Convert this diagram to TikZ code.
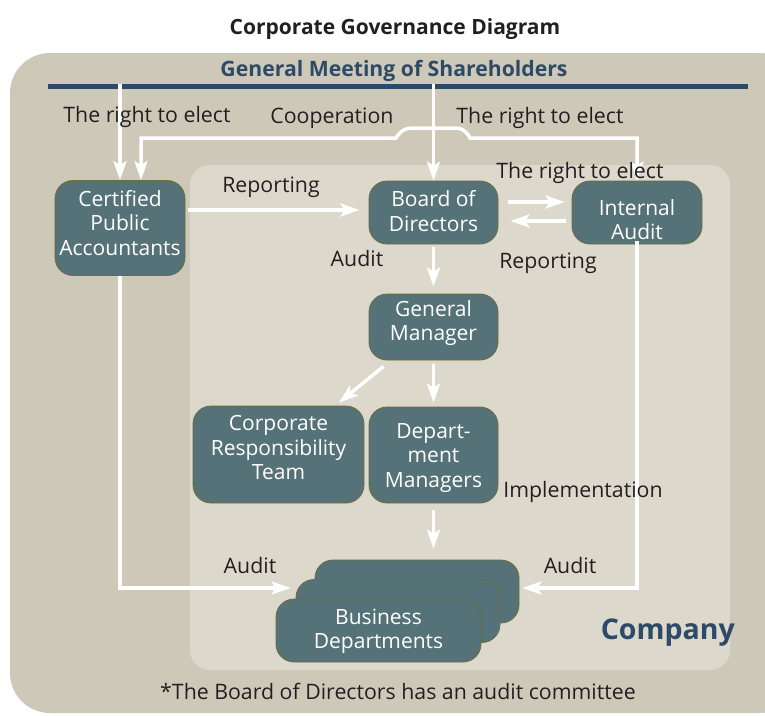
\documentclass[tikz,border=0pt]{standalone}
\usepackage{fontspec}
\setmainfont{Open Sans}
\usetikzlibrary{arrows.meta,calc}
\definecolor{outerbg}{HTML}{CEC8B9}
\definecolor{innerbg}{HTML}{DCD8CC}
\definecolor{boxfill}{HTML}{557279}
\definecolor{boxedge}{HTML}{6E6B3C}
\definecolor{navy}{HTML}{2D4A67}
\definecolor{ink}{HTML}{231F20}
\begin{document}
\begin{tikzpicture}[x=1pt,y=-1pt,
  wt/.tip={Stealth[length=19pt,width=13pt,inset=4pt]},
  box/.style={draw=boxedge, line width=0.8pt, fill=boxfill, rounded corners=18pt, inner sep=0pt},
  boxtxt/.style={text=white, align=center, font=\fontsize{21}{24.5}\selectfont, inner sep=0pt},
  lbl/.style={text=ink, font=\fontsize{21.3}{24}\selectfont, inner sep=0pt},
  arr/.style={draw=white, line width=3.5pt, -wt},
  dbl/.style={draw=white, line width=3.5pt, wt-wt}]
\useasboundingbox (0,0) rectangle (765,715);
\clip (0,0) rectangle (765,715);
% backgrounds
\fill[outerbg, rounded corners=40pt] (10,53) rectangle (800,713);
\fill[innerbg, rounded corners=20pt] (190,165) rectangle (730,670);
% title and shareholders bar
\node[text=ink, font=\fontsize{21}{24}\selectfont\bfseries] (title) at (395,29) {Corporate Governance Diagram};
\node[text=navy, font=\fontsize{21.2}{24}\selectfont\bfseries] (gms) at (394,71) {General Meeting of Shareholders};
\coordinate (barl) at (48,86);
\coordinate (barr) at (748,86);
\draw[navy, line width=5pt] (barl) -- (barr);
% boxes
\node[box, minimum width=130pt, minimum height=95pt] (cpa) at (120,228) {};
\node[box, minimum width=129pt, minimum height=63pt] (board) at (433.5,212.5) {};
\node[box, minimum width=130pt, minimum height=63pt] (ia) at (637,212.5) {};
\node[box, minimum width=129pt, minimum height=66pt] (gm) at (433.5,327) {};
\node[box, minimum width=171pt, minimum height=97pt] (crt) at (278.5,454.5) {};
\node[box, minimum width=129pt, minimum height=96pt] (dm) at (433.5,455) {};
\node[box, minimum width=204pt, minimum height=63pt] (bd3) at (417,591.5) {};
\node[box, minimum width=204pt, minimum height=63pt] (bd2) at (398,611) {};
\node[box, minimum width=205pt, minimum height=63pt] (bd1) at (378.5,630.5) {};
% box texts
\node[boxtxt] (cpa-t) at ([yshift=5pt]cpa.center) {Certified\\Public\\Accountants};
\node[boxtxt] (board-t) at ([yshift=1.5pt]board.center) {Board of\\Directors};
\node[boxtxt] (ia-t) at ([yshift=-7pt]ia.center) {Internal\\Audit};
\node[boxtxt] (gm-t) at ([yshift=4pt]gm.center) {General\\Manager};
\node[boxtxt] (crt-t) at ([yshift=7pt]crt.center) {Corporate\\Responsibility\\Team};
\node[boxtxt] (dm-t) at ([yshift=-3pt]dm.center) {Depart-\\ment\\Managers};
\node[boxtxt] (bd-t) at ([yshift=-1pt]bd1.center) {Business\\Departments};
% connectors
\coordinate (rep) at (0,210);
\coordinate (auy) at (0,588);
\draw[arr] ([yshift=2.5pt]cpa.north |- barl) -- (cpa.north);
\draw[arr] ([yshift=2.5pt]board.north |- barl) -- (board.north);
\draw[dbl] ([xshift=21pt]cpa.north) |- (396,138)
  .. controls (402,129) and (406,128) .. (416,128) -- (451,128)
  .. controls (461,128) and (465,129) .. (470,138) -| (ia.north);
\draw[arr] ([xshift=3pt]cpa.east |- rep) -- ([xshift=-9pt]board.west |- rep);
\draw[arr] ([xshift=10pt]board.east |- 0,202) -- ([xshift=-7pt]ia.west |- 0,202);
\draw[arr] ([xshift=-6pt]ia.west |- 0,221) -- ([xshift=12pt]board.east |- 0,221);
\draw[arr, shorten <=3pt, shorten >=7pt] (board.south) -- (gm.north);
\draw[arr] ($(gm.south)+(-50,6)$) -- ($(crt.north)+(60.5,-3)$);
\draw[arr, shorten <=4pt, shorten >=4pt] (gm.south) -- (dm.north);
\draw[arr, shorten <=7pt, shorten >=11pt] (dm.south) -- (bd3.north -| dm.south);
\draw[arr] (cpa.south) |- ([xshift=-5pt]bd2.west |- auy);
\draw[arr] ([yshift=3pt]ia.south) |- ([xshift=3pt]bd3.east |- auy);
% labels
\node[lbl] (l1) at (147,117) {The right to elect};
\node[lbl] (l2) at (332,118) {Cooperation};
\node[lbl] (l3) at (540,118) {The right to elect};
\node[lbl] (l4) at (580,173) {The right to elect};
\node[lbl] (l5) at (271,187) {Reporting};
\node[lbl] (l6) at (357,259) {Audit};
\node[lbl] (l7) at (548,263) {Reporting};
\node[lbl] (l8) at (583,492) {Implementation};
\node[lbl] (l9) at (250,566) {Audit};
\node[lbl] (l10) at (570,566) {Audit};
\node[text=navy, font=\fontsize{28.5}{30}\selectfont\bfseries, anchor=east, inner sep=0pt] (co) at (735,633) {Company};
\node[lbl] (fn) at (398,691) {*The Board of Directors has an audit committee};
\end{tikzpicture}
\end{document}
